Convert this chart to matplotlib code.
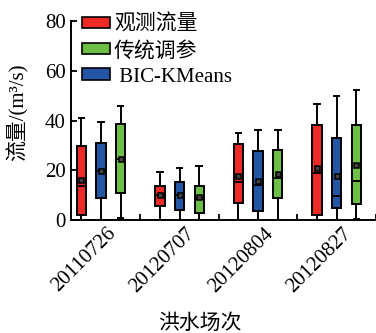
#!/usr/bin/env python3

import matplotlib.pyplot as plt
import matplotlib.transforms as mtransforms
import numpy as np

plt.rcParams['font.family'] = ['Liberation Serif', 'Noto Sans CJK SC']

# flood events and the three series (order drawn: observed, BIC-KMeans, traditional)
events = ['20110726', '20120707', '20120804', '20120827']
series = ['观测流量', '传统调参', ' BIC-KMeans']
colors = {'观测流量': '#ED2A26', '传统调参': '#6DBE45', ' BIC-KMeans': '#2456A6'}
draw_order = ['观测流量', ' BIC-KMeans', '传统调参']

# per event: whisker low, q1, median, q3, whisker high, mean
obs_stats = [
    (0.0, 1.9, 13.8, 29.9, 41.1, 16.3),
    (0.0, 5.8, 10.0, 13.9, 19.2, 10.0),
    (0.0, 6.8, 15.5, 30.4, 35.1, 17.7),
    (0.0, 1.9, 19.0, 38.3, 46.5, 20.8),
]
bic_stats = [
    (0.0, 8.8, 19.7, 31.1, 39.4, 19.7),
    (0.0, 4.0, 10.0, 15.4, 21.0, 10.0),
    (0.0, 3.5, 14.1, 27.7, 36.2, 15.7),
    (0.0, 5.0, 9.6, 33.0, 50.0, 17.8),
]
trad_stats = [
    (0.7, 10.9, 24.4, 38.5, 46.0, 24.4),
    (0.0, 2.9, 8.6, 13.8, 21.7, 9.1),
    (0.0, 9.0, 16.8, 28.0, 36.4, 18.4),
    (0.3, 6.3, 15.8, 38.1, 52.4, 22.1),
]
all_stats = {'观测流量': obs_stats, ' BIC-KMeans': bic_stats, '传统调参': trad_stats}


def main() -> None:
    fig = plt.figure(figsize=(3.76, 3.33), dpi=100)
    ax = fig.add_axes([0.189, 0.339, 0.811, 0.598])

    x = np.arange(len(events))
    offsets = [-0.25, 0.0, 0.25]
    for off, name in zip(offsets, draw_order):
        stats = [
            dict(whislo=s[0], q1=s[1], med=s[2], q3=s[3], whishi=s[4], mean=s[5])
            for s in all_stats[name]
        ]
        ax.bxp(
            stats,
            positions=x + off,
            widths=0.118,
            capwidths=0.07,
            showmeans=True,
            showfliers=False,
            patch_artist=True,
            manage_ticks=False,
            boxprops=dict(facecolor=colors[name], edgecolor='black', linewidth=1.4),
            medianprops=dict(color='black', linewidth=1.4),
            whiskerprops=dict(color='black', linewidth=1.4),
            capprops=dict(color='black', linewidth=1.4),
            meanprops=dict(marker='s', markerfacecolor='#444444',
                           markeredgecolor='black', markersize=3.6, markeredgewidth=1.1),
            zorder=3,
        )

    for name in series:
        ax.bar(0, 0, color=colors[name], edgecolor='black', linewidth=1.2, label=name)

    ax.set_xlim(-0.38, 3.48)
    ax.set_ylim(0, 80)
    ax.set_yticks(np.arange(0, 81, 20))
    ax.set_xticks(x)
    ax.set_xticklabels(events, rotation=45, ha='right', va='top', fontsize=15)
    ax.set_xticks(x + 0.5, minor=True)
    ax.tick_params(axis='x', which='major', length=0, pad=3)
    ax.tick_params(axis='x', which='minor', direction='in', length=4, width=1.3)
    ax.tick_params(axis='y', direction='in', length=4, width=1.3, labelsize=15, pad=4)
    shift = mtransforms.ScaledTranslation(0.19, 0, fig.dpi_scale_trans)
    for lab in ax.get_xticklabels():
        lab.set_transform(lab.get_transform() + shift)

    for side in ('top', 'right'):
        ax.spines[side].set_visible(False)
    for side in ('left', 'bottom'):
        ax.spines[side].set_linewidth(1.4)

    ax.set_xlabel('洪水场次', fontsize=15)
    ax.xaxis.set_label_coords(0.423, -0.475)
    ax.set_ylabel('流量/(m³/s)', fontsize=15)
    ax.yaxis.set_label_coords(-0.14, 0.54)

    ax.legend(
        loc='upper left',
        bbox_to_anchor=(0.035, 1.03),
        frameon=False,
        fontsize=15,
        handlelength=1.35,
        handleheight=0.45,
        handletextpad=0.2,
        labelspacing=0.3,
        borderpad=0,
        borderaxespad=0,
    )

    fig.savefig('out.png')


if __name__ == '__main__':
    main()
